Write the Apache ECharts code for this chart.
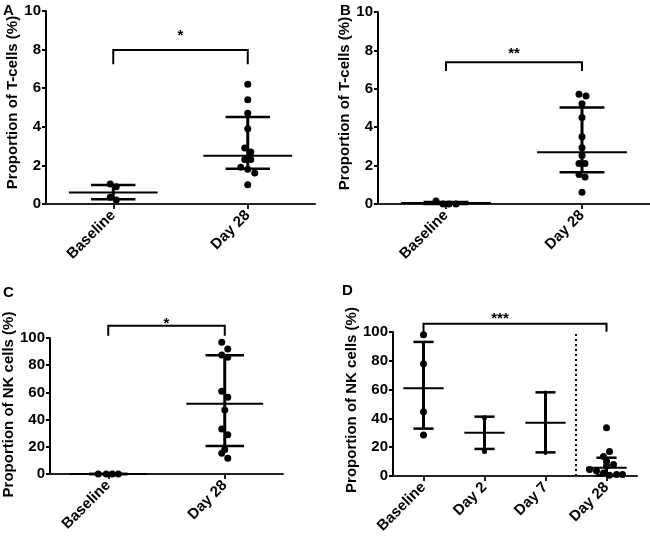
<!DOCTYPE html>
<html>
<head>
<meta charset="utf-8">
<script src="https://cdn.jsdelivr.net/npm/echarts@6/dist/echarts.min.js"></script>
<style>
  html, body { margin: 0; padding: 0; background: #fff; }
  #chart { width: 650px; height: 541px; }
</style>
</head>
<body>
<div id="chart"></div>
<script>
// ---------- data ----------
const catsTwo = ['Baseline', 'Day 28'];
const catsD = ['Baseline', 'Day 2', 'Day 7', 'Day 28'];

// Panel A: T-cells (%)
const aBaseline = [1.04, 0.90, 0.35, 0.21];
const aDay28 = [6.2, 5.4, 4.7, 3.9, 2.9, 2.7, 2.3, 2.3, 1.9, 1.8, 1.6, 1.0];
const aCenter = [0.60, 2.50];
const aLow = [0.24, 1.83];
const aHigh = [0.98, 4.51];

// Panel B: T-cells (%)
const bBaseline = [0.16, 0.0, 0.0, 0.0];
const bDay28 = [5.72, 5.62, 5.22, 4.51, 3.50, 2.93, 2.53, 2.11, 2.11, 1.54, 1.40, 0.61];
const bCenter = [0.05, 2.70];
const bLow = [0.0, 1.66];
const bHigh = [0.10, 5.03];

// Panel C: NK cells (%)
const cBaseline = [0, 0, 0, 0];
const cDay28 = [96.8, 91.9, 87.5, 85.8, 60.8, 56.4, 47.1, 33.1, 28.9, 18.1, 15.2, 11.5];
const cCenter = [0, 51.7];
const cLow = [0, 20.6];
const cHigh = [0, 87.3];

// Panel D: NK cells (%)
const dBaseline = [98.1, 78.0, 44.7, 28.5];
const dDay2 = [40.5, 17.0];
const dDay7 = [58.0, 16.0];
const dDay28 = [33.5, 17.0, 13.5, 10.0, 8.0, 7.0, 4.5, 3.5, 2.0, 1.0, 1.0, 0.5];
const dCenter = [60.9, 30.1, 37.0, 5.8];
const dLow = [32.9, 18.8, 16.4, 0.5];
const dHigh = [93.1, 41.2, 58.1, 12.7];

// significance brackets: [fromCat, toCat, top, leftLegEnd, rightLegEnd, starLevel]
const bracketA = [0, 1, 7.98, 7.24, 7.24, 8.93];
const bracketB = [0, 1, 7.38, 6.93, 6.93, 8.04];
const bracketC = [0, 1, 109, 101.7, 101.7, 113.5];
const bracketD = [0, 3, 105.8, 99.3, 100.2, 111.8];
const starsA = '*', starsB = '**', starsC = '*', starsD = '***';

const tTicks = { min: 0, max: 10, interval: 2 };
const nkTicks = { min: 0, max: 100, interval: 20 };

// ---------- style (jitter in px, not data) ----------
const jitA0 = [-3, 3, -3, 3];
const jitA1 = [0, 0, 0, 0, -3, 3, -3, 3, -7, 0, 7, 0];
const jitB0 = [-10, -3, 3, 10];
const jitB1 = [-3, 4, 0, 0, 0, 0, 0, -3, 3, -3, 3, 0];
const jitC0 = [-10, -2, 4, 10];
const jitC1 = [-3, 3, -3, 3, -3, 3, 0, -3, 3, 0, -3, 3];
const jitD3 = [0, 3, -3, 0, 7, 0, -17, -10, -3, 10, 16, 3];
const dividerAfterCat = 2; // dotted separator after "Day 7"

const FONT = '"Liberation Sans", Arial, Helvetica, sans-serif';

function pts(cat, vals, jit, size) {
  return vals.map((v, i) => ({
    value: [cat, v],
    symbolOffset: [jit ? jit[i] : 0, 0],
    symbolSize: size || 7
  }));
}

function scatterSeries(gi, data) {
  return {
    type: 'scatter', xAxisIndex: gi, yAxisIndex: gi,
    data: data, symbol: 'circle',
    itemStyle: { color: '#000', opacity: 1 },
    clip: false, z: 4, silent: true
  };
}

function errorBarSeries(gi, center, low, high) {
  return {
    type: 'custom', xAxisIndex: gi, yAxisIndex: gi, clip: false, z: 3, silent: true,
    encode: { x: 0, y: [1, 2, 3] },
    data: center.map((c, i) => [i, c, low[i], high[i]]),
    renderItem: function (params, api) {
      const x = api.value(0);
      const pc = api.coord([x, api.value(1)]);
      const pl = api.coord([x, api.value(2)]);
      const ph = api.coord([x, api.value(3)]);
      const band = api.size([1, 0])[0];
      const hm = band * 0.33, hc = band * 0.165;
      const s = (w) => ({ stroke: '#000', lineWidth: w, fill: null });
      return {
        type: 'group',
        children: [
          { type: 'line', shape: { x1: pc[0], y1: pl[1], x2: pc[0], y2: ph[1] }, style: s(3) },
          { type: 'line', shape: { x1: pc[0] - hc, y1: pl[1], x2: pc[0] + hc, y2: pl[1] }, style: s(2.5) },
          { type: 'line', shape: { x1: pc[0] - hc, y1: ph[1], x2: pc[0] + hc, y2: ph[1] }, style: s(2.5) },
          { type: 'line', shape: { x1: pc[0] - hm, y1: pc[1], x2: pc[0] + hm, y2: pc[1] }, style: s(2) }
        ]
      };
    }
  };
}

function bracketSeries(gi, br, stars, starDx) {
  return {
    type: 'custom', xAxisIndex: gi, yAxisIndex: gi, clip: false, z: 5, silent: true,
    encode: { x: [0, 1], y: [2, 3, 4, 5] },
    data: [br],
    renderItem: function (params, api) {
      const x1 = api.value(0), x2 = api.value(1);
      const a = api.coord([x1, api.value(3)]);
      const b = api.coord([x1, api.value(2)]);
      const c = api.coord([x2, api.value(2)]);
      const d = api.coord([x2, api.value(4)]);
      const st = api.coord([x1, api.value(5)]);
      const mx = (b[0] + c[0]) / 2 + (starDx || 0);
      return {
        type: 'group',
        children: [
          { type: 'polyline', shape: { points: [a, b, c, d] }, style: { stroke: '#000', lineWidth: 2, fill: null } },
          { type: 'text', x: mx, y: st[1] + 4,
            style: { text: stars, font: 'bold 15px ' + FONT, fill: '#000', align: 'center', verticalAlign: 'middle' } }
        ]
      };
    }
  };
}

function dividerSeries(gi, cat, yMin, yMax) {
  return {
    type: 'custom', xAxisIndex: gi, yAxisIndex: gi, clip: false, z: 2, silent: true,
    encode: { x: 0, y: [1, 2] },
    data: [[cat, yMin, yMax]],
    renderItem: function (params, api) {
      const band = api.size([1, 0])[0];
      const p0 = api.coord([api.value(0), api.value(1)]);
      const p1 = api.coord([api.value(0), api.value(2)]);
      const x = p0[0] + band / 2;
      return { type: 'line', shape: { x1: x, y1: p0[1], x2: x, y2: p1[1] },
        style: { stroke: '#000', lineWidth: 2, lineDash: [2, 3] } };
    }
  };
}

function xAx(gi, cats) {
  return {
    type: 'category', gridIndex: gi, data: cats, boundaryGap: true,
    axisLine: { show: true, onZero: false, lineStyle: { color: '#222', width: 2 } },
    axisTick: { show: true, alignWithLabel: true, length: 5, lineStyle: { color: '#222', width: 2 } },
    axisLabel: { rotate: 45, margin: 9, color: '#000', fontWeight: 'bold', fontSize: 15, fontFamily: FONT, interval: 0 },
    splitLine: { show: false }
  };
}

function yAx(gi, ticks, name, gap, shiftUp) {
  return {
    type: 'value', gridIndex: gi, min: ticks.min, max: ticks.max, interval: ticks.interval,
    name: name, nameLocation: 'middle', nameGap: gap,
    nameTextStyle: { color: '#000', fontWeight: 'bold', fontSize: 15, fontFamily: FONT,
      padding: [0, 0, 0, shiftUp] },
    axisLine: { show: true, lineStyle: { color: '#000', width: 2 } },
    axisTick: { show: true, length: 4, lineStyle: { color: '#000', width: 2 } },
    axisLabel: { color: '#000', fontWeight: 'bold', fontSize: 15, fontFamily: FONT, margin: 5 },
    splitLine: { show: false }
  };
}

const grids = [
  { left: 46, right: 335, top: 11, bottom: 337 },
  { left: 378, right: 0, top: 12, bottom: 337 },
  { left: 50, right: 367, top: 338, bottom: 67 },
  { left: 393, right: 13, top: 332, bottom: 65 }
].map(g => Object.assign({ containLabel: false, outerBoundsMode: 'none' }, g));

const letter = (t, x, y) => ({
  type: 'text', left: x, top: y,
  style: { text: t, font: 'bold 15px ' + FONT, fill: '#000' }
});

const option = {
  backgroundColor: '#fff',
  animation: false,
  grid: grids,
  xAxis: [xAx(0, catsTwo), xAx(1, catsTwo), xAx(2, catsTwo), xAx(3, catsD)],
  yAxis: [
    yAx(0, tTicks, 'Proportion of T-cells (%)', 19, 10),
    yAx(1, tTicks, 'Proportion of T-cells (%)', 16, 9),
    yAx(2, nkTicks, 'Proportion of NK cells (%)', 32, 3),
    yAx(3, nkTicks, 'Proportion of NK cells (%)', 30, 8)
  ],
  graphic: [
    letter('A', 3, 3),
    letter('B', 340, 3),
    letter('C', 3, 285),
    letter('D', 342, 283)
  ],
  series: [
    errorBarSeries(0, aCenter, aLow, aHigh),
    scatterSeries(0, pts(0, aBaseline, jitA0).concat(pts(1, aDay28, jitA1))),
    bracketSeries(0, bracketA, starsA, 0),

    errorBarSeries(1, bCenter, bLow, bHigh),
    scatterSeries(1, pts(0, bBaseline, jitB0).concat(pts(1, bDay28, jitB1))),
    bracketSeries(1, bracketB, starsB, 0),

    errorBarSeries(2, cCenter, cLow, cHigh),
    scatterSeries(2, pts(0, cBaseline, jitC0).concat(pts(1, cDay28, jitC1))),
    bracketSeries(2, bracketC, starsC, 0),

    errorBarSeries(3, dCenter, dLow, dHigh),
    scatterSeries(3, pts(0, dBaseline, null)
      .concat(pts(1, dDay2, null, 5))
      .concat(pts(2, dDay7, null, 4))
      .concat(pts(3, dDay28, jitD3))),
    bracketSeries(3, bracketD, starsD, -15),
    dividerSeries(3, dividerAfterCat, nkTicks.min, nkTicks.max)
  ]
};

const chart = echarts.init(document.getElementById('chart'), null, { renderer: 'canvas' });
chart.setOption(option);
</script>
</body>
</html>
